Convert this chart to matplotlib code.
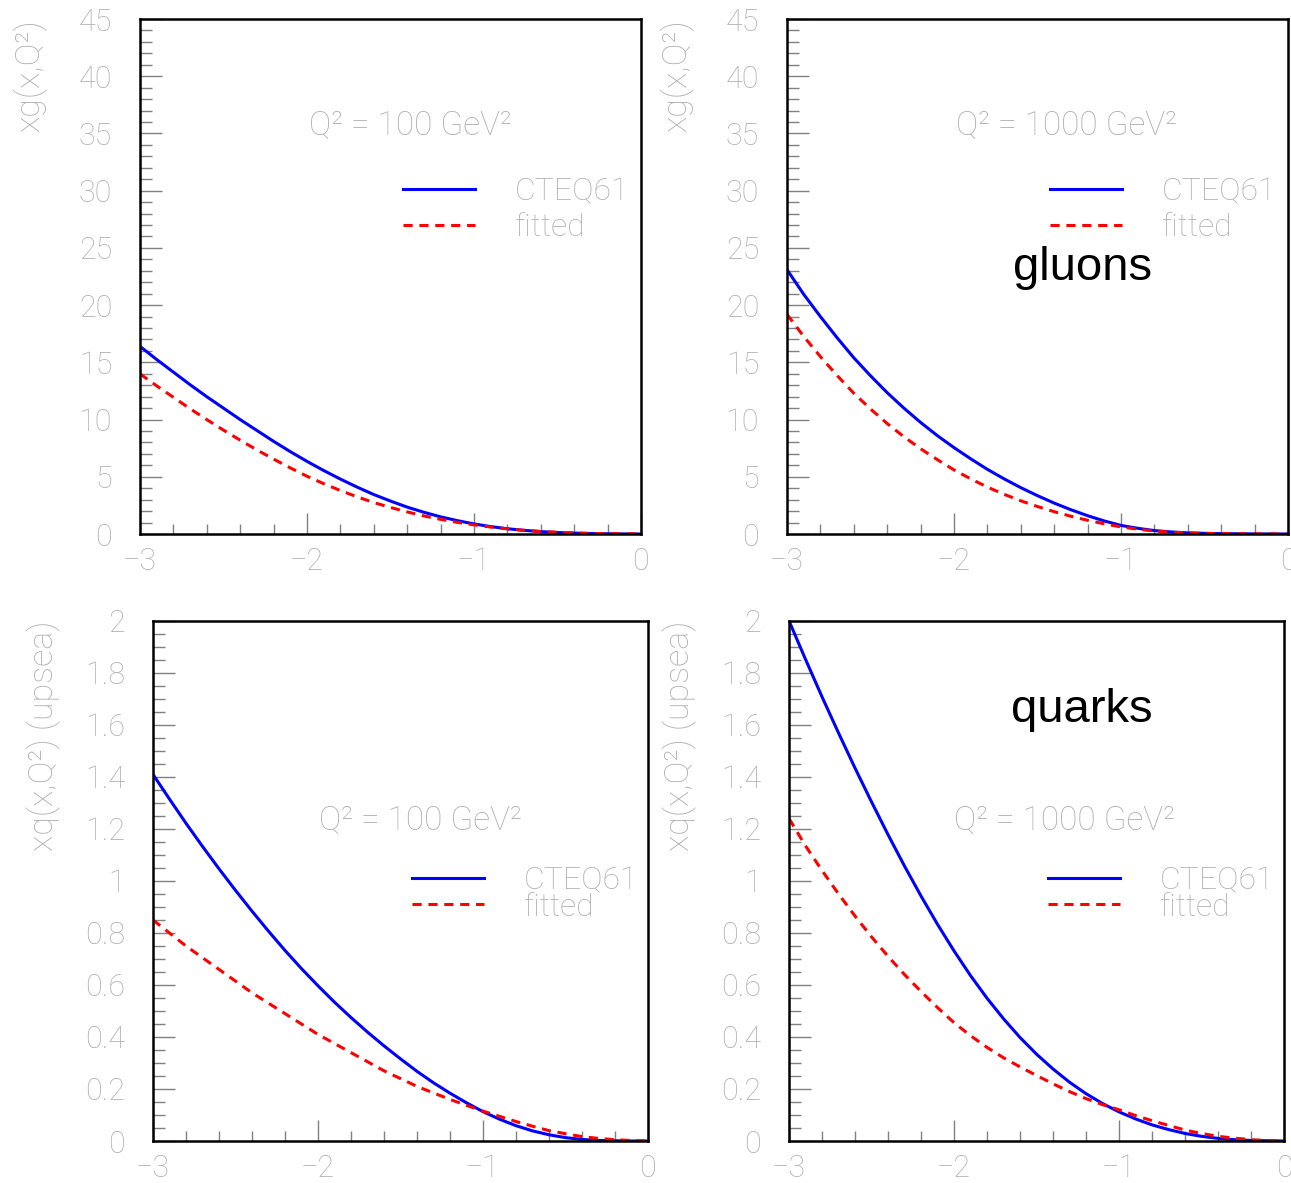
import matplotlib
matplotlib.use('Agg')
import matplotlib.pyplot as plt
from matplotlib.ticker import MultipleLocator, FormatStrFormatter

plt.rcParams['font.family'] = ['Roboto', 'DejaVu Sans']
plt.rcParams['font.weight'] = 'light'
plt.rcParams['axes.labelweight'] = 'light'

# log10(x) grid where the curves were read
logx = [-3.0, -2.9, -2.8, -2.7, -2.6, -2.5, -2.4, -2.3, -2.2, -2.1,
        -2.0, -1.9, -1.8, -1.7, -1.6, -1.5, -1.4, -1.3, -1.2, -1.1,
        -1.0, -0.9, -0.8, -0.7, -0.6, -0.5, -0.4, -0.3, -0.2, -0.1, 0.0]

# gluons, Q^2 = 100
g100_cteq = [16.4, 15.25, 14.15, 13.05, 12.0, 11.0, 10.0, 9.05, 8.1, 7.2,
             6.35, 5.55, 4.8, 4.1, 3.45, 2.88, 2.35, 1.9, 1.5, 1.17,
             0.88, 0.65, 0.46, 0.32, 0.21, 0.13, 0.08, 0.04, 0.02, 0.01, 0.0]
g100_fit = [14.0, 12.95, 11.95, 10.95, 10.0, 9.08, 8.2, 7.35, 6.55, 5.78,
            5.05, 4.4, 3.8, 3.25, 2.75, 2.32, 1.93, 1.58, 1.28, 1.02,
            0.8, 0.61, 0.45, 0.32, 0.22, 0.15, 0.09, 0.05, 0.03, 0.015, 0.01]
# gluons, Q^2 = 1000
g1000_cteq = [23.1, 20.95, 19.0, 17.15, 15.4, 13.83, 12.35, 11.0, 9.75, 8.6,
              7.55, 6.57, 5.65, 4.82, 4.05, 3.35, 2.7, 2.12, 1.6, 1.14,
              0.75, 0.5, 0.3, 0.18, 0.1, 0.06, 0.03, 0.02, 0.01, 0.005, 0.0]
g1000_fit = [19.2, 17.27, 15.5, 13.85, 12.3, 10.93, 9.65, 8.5, 7.45, 6.5,
             5.6, 4.82, 4.1, 3.47, 2.9, 2.4, 1.95, 1.55, 1.2, 0.89,
             0.62, 0.42, 0.26, 0.16, 0.09, 0.05, 0.03, 0.02, 0.01, 0.005, 0.0]
# up-sea quarks, Q^2 = 100
q100_cteq = [1.41, 1.315, 1.222, 1.133, 1.047, 0.964, 0.884, 0.807, 0.733, 0.663,
             0.597, 0.534, 0.475, 0.419, 0.366, 0.316, 0.268, 0.224, 0.184, 0.147,
             0.113, 0.084, 0.059, 0.039, 0.024, 0.013, 0.006, 0.002, 0.001, 0.0, 0.0]
q100_fit = [0.85, 0.80, 0.75, 0.705, 0.66, 0.615, 0.57, 0.53, 0.49, 0.45,
            0.41, 0.375, 0.34, 0.305, 0.27, 0.24, 0.21, 0.185, 0.16, 0.137,
            0.115, 0.095, 0.075, 0.057, 0.04, 0.028, 0.017, 0.01, 0.005, 0.002, 0.0]
# up-sea quarks, Q^2 = 1000
q1000_cteq = [2.0, 1.852, 1.708, 1.569, 1.434, 1.304, 1.178, 1.057, 0.942, 0.833,
              0.731, 0.636, 0.549, 0.47, 0.398, 0.334, 0.277, 0.226, 0.182, 0.144,
              0.112, 0.085, 0.062, 0.044, 0.029, 0.018, 0.01, 0.005, 0.002, 0.001, 0.0]
q1000_fit = [1.24, 1.135, 1.04, 0.95, 0.865, 0.785, 0.71, 0.64, 0.575, 0.513,
             0.455, 0.405, 0.36, 0.32, 0.285, 0.252, 0.22, 0.19, 0.163, 0.14,
             0.12, 0.098, 0.078, 0.06, 0.042, 0.029, 0.018, 0.011, 0.005, 0.002, 0.0]

series_names = ['CTEQ61', 'fitted']
q2_labels = ['Q² = 100 GeV²', 'Q² = 1000 GeV²']
ylabels = ['xg(x,Q²)', 'xq(x,Q²) (upsea)']

grey = '#b0b0b0'
tickc = '#808080'

fig = plt.figure(figsize=(12.91, 11.83), dpi=100)

rects = [
    [0.1084, 0.5486, 0.3881, 0.4353],
    [0.6096, 0.5486, 0.3881, 0.4353],
    [0.1185, 0.0355, 0.3834, 0.4396],
    [0.6112, 0.0355, 0.3834, 0.4396],
]
panels = [
    (g100_cteq, g100_fit, 45, 5, 1, q2_labels[0], ylabels[0], 0.539, 0.794, 0.525, 0.63, 0.22),
    (g1000_cteq, g1000_fit, 45, 5, 1, q2_labels[1], ylabels[0], 0.557, 0.794, 0.525, 0.63, 0.22),
    (q100_cteq, q100_fit, 2, 0.2, 0.05, q2_labels[0], ylabels[1], 0.54, 0.617, 0.523, 0.475, -0.09),
    (q1000_cteq, q1000_fit, 2, 0.2, 0.05, q2_labels[1], ylabels[1], 0.556, 0.617, 0.523, 0.475, -0.09),
]

for rect, p in zip(rects, panels):
    cteq, fit, ymax, ymaj, ymin, qlab, ylab, qx, qy, lx, ly, lsp = p
    ax = fig.add_axes(rect)
    ax.plot(logx, cteq, color='#0000ff', lw=2.2, label=series_names[0])
    ax.plot(logx, fit, color='#ff0000', lw=2.2, dashes=(3, 2.2), label=series_names[1])
    ax.set_xlim(-3, 0)
    ax.set_ylim(0, ymax)
    ax.xaxis.set_major_locator(MultipleLocator(1))
    ax.xaxis.set_minor_locator(MultipleLocator(0.2))
    ax.yaxis.set_major_locator(MultipleLocator(ymaj))
    ax.yaxis.set_minor_locator(MultipleLocator(ymin))
    ax.yaxis.set_major_formatter(FormatStrFormatter('%g'))
    ax.tick_params(which='both', direction='in', top=False, right=False,
                   color=tickc, width=1.0, labelcolor=grey, labelsize=22)
    ax.tick_params(axis='y', which='major', length=16, pad=20)
    ax.tick_params(axis='y', which='minor', length=8.5)
    ax.tick_params(axis='x', which='major', length=15, pad=9)
    ax.tick_params(axis='x', which='minor', length=7)
    for s in ax.spines.values():
        s.set_linewidth(1.8)
        s.set_color('black')
    ax.set_ylabel(ylab, loc='top', color=grey, fontsize=24.5, fontweight='light')
    ax.yaxis.set_label_coords(-0.186, 1.0)
    ax.text(qx, qy, qlab, transform=ax.transAxes, ha='center', va='center',
            color=grey, fontsize=24)
    ax.legend(frameon=False, loc='center left', bbox_to_anchor=(lx, ly),
              handlelength=2.26, handletextpad=1.25, labelspacing=lsp,
              borderpad=0, borderaxespad=0, fontsize=23, labelcolor=grey)

fig.text(1083 / 1291, 1 - 268 / 1183, 'gluons', fontsize=34, family='Liberation Sans',
         weight='normal', ha='center', va='center')
fig.text(1082 / 1291, 1 - 710 / 1183, 'quarks', fontsize=34, family='Liberation Sans',
         weight='normal', ha='center', va='center')

fig.savefig('out.png', dpi=100)
